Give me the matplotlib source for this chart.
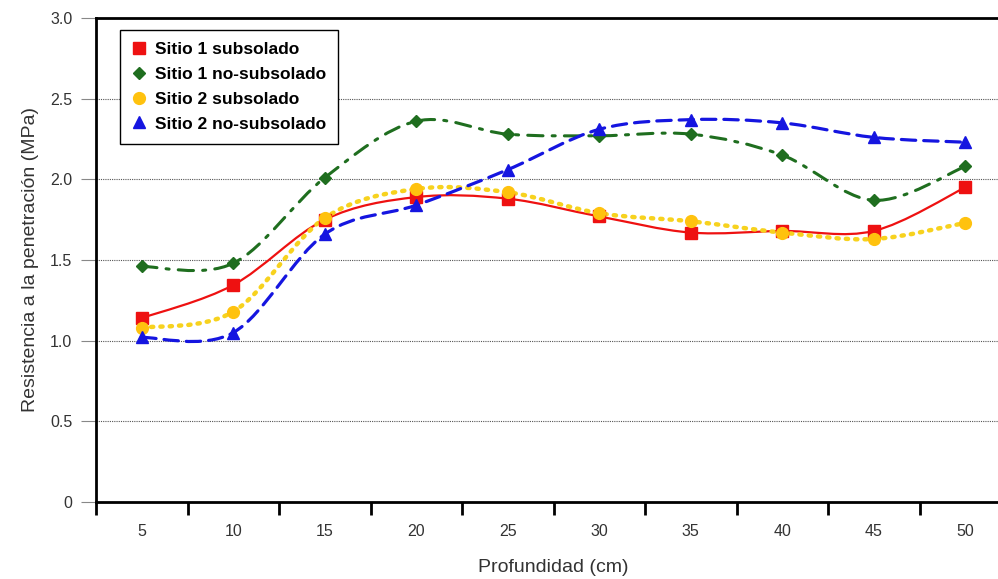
import numpy as np
import matplotlib
matplotlib.use('Agg')
import matplotlib.pyplot as plt
from matplotlib.path import Path
from matplotlib.patches import PathPatch

plt.rcParams['font.family'] = ['Liberation Sans', 'DejaVu Sans']

# datos
profundidad = ['5', '10', '15', '20', '25', '30', '35', '40', '45', '50']
sitio1_sub = [1.14, 1.345, 1.75, 1.89, 1.88, 1.77, 1.67, 1.68, 1.68, 1.95]
sitio1_nosub = [1.46, 1.48, 2.01, 2.36, 2.28, 2.27, 2.28, 2.15, 1.87, 2.08]
sitio2_sub = [1.08, 1.18, 1.76, 1.94, 1.92, 1.79, 1.74, 1.67, 1.63, 1.73]
sitio2_nosub = [1.02, 1.05, 1.66, 1.84, 2.06, 2.31, 2.37, 2.35, 2.26, 2.23]
yticks = [0, 0.5, 1.0, 1.5, 2.0, 2.5, 3.0]
ytick_labels = ['0', '0.5', '1.0', '1.5', '2.0', '2.5', '3.0']


# curva suavizada tipo excel (catmull-rom -> bezier)
def smooth_path(xs, ys):
    pts = np.column_stack([xs, ys]).astype(float)
    ext = np.vstack([pts[0], pts, pts[-1]])
    verts = [pts[0]]
    codes = [Path.MOVETO]
    for i in range(len(pts) - 1):
        p0, p1, p2, p3 = ext[i], ext[i + 1], ext[i + 2], ext[i + 3]
        c1 = p1 + (p2 - p0) / 6.0
        c2 = p2 - (p3 - p1) / 6.0
        verts += [c1, c2, p2]
        codes += [Path.CURVE4] * 3
    return Path(verts, codes)


fig = plt.figure(figsize=(9.98, 5.79), dpi=100)
ax = fig.add_axes([96 / 998, 1 - 502 / 579, 915 / 998, 484 / 579])

x = np.arange(len(profundidad))

series = [
    (sitio1_sub, 'Sitio 1 subsolado', '#ee1111', '#ee1111', 's', 9.0, '-', 1.6),
    (sitio1_nosub, 'Sitio 1 no-subsolado', '#1f6e1f', '#1f6e1f', 'D', 6.0, (0, (5, 3, 1, 3)), 2.2),
    (sitio2_sub, 'Sitio 2 subsolado', '#f7d21e', '#ffc20e', 'o', 8.5, (0, (0.5, 1.6)), 3.2),
    (sitio2_nosub, 'Sitio 2 no-subsolado', '#1515e0', '#1515e0', '^', 9.0, (0, (4.5, 2.5)), 2.3),
]

for ys, lab, lc, mc, mk, ms, ls, lw in series:
    patch = PathPatch(smooth_path(x, ys), facecolor='none', edgecolor=lc,
                      linestyle=ls, linewidth=lw, capstyle='round', zorder=3)
    ax.add_patch(patch)

for ys, lab, lc, mc, mk, ms, ls, lw in series:
    ax.plot(x, ys, linestyle='none', marker=mk, markersize=ms, color=mc,
            markeredgecolor=mc, label=lab, zorder=4)

ax.set_xlim(-0.5, 9.5)
ax.set_ylim(0, 3.0)
ax.set_xticks(x)
ax.set_xticklabels(profundidad)
ax.set_xticks(np.arange(-0.5, 10, 1), minor=True)
ax.tick_params(axis='x', which='major', length=0, pad=16, labelsize=11.5, labelcolor='#333333')
ax.tick_params(axis='x', which='minor', length=9, width=2, direction='out', color='black')
ax.set_yticks(yticks)
ax.set_yticklabels(ytick_labels)
ax.tick_params(axis='y', length=11, width=0.8, color='#888888', direction='out',
               labelsize=11.5, labelcolor='#333333', pad=6)

ax.yaxis.grid(True, linestyle=(0, (1, 1)), color='#555555', linewidth=0.8)
ax.set_axisbelow(True)

for s in ['left', 'bottom', 'top']:
    ax.spines[s].set_linewidth(2)
    ax.spines[s].set_color('black')
ax.spines['right'].set_visible(False)

ax.set_xlabel('Profundidad (cm)', fontsize=14, color='#333333', labelpad=14)
ax.set_ylabel('Resistencia a la penetración (MPa)', fontsize=14, color='#333333', labelpad=8)

leg = ax.legend(loc='upper left', bbox_to_anchor=(0.026, 0.975), borderaxespad=0,
                fancybox=False, edgecolor='black', framealpha=1,
                prop={'weight': 'bold', 'size': 12.5}, handlelength=0.8,
                handletextpad=0.5, labelspacing=0.55, borderpad=0.7)
leg.get_frame().set_linewidth(1.0)

fig.savefig('out.png', dpi=100)
